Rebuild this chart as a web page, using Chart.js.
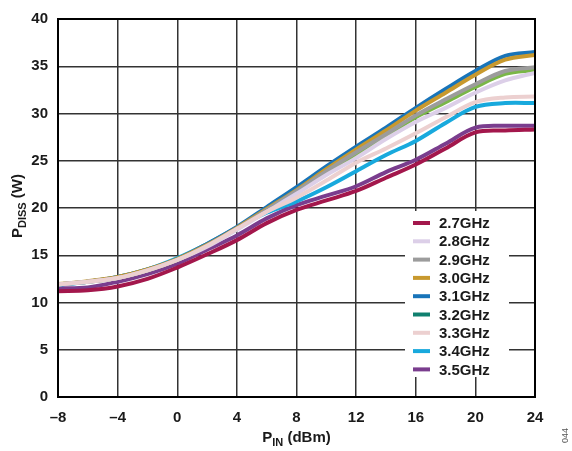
<!DOCTYPE html>
<html>
<head>
<meta charset="utf-8">
<script src="https://cdn.jsdelivr.net/npm/chart.js@4/dist/chart.umd.min.js"></script>
<style>
  html, body { margin: 0; padding: 0; background: #fff; }
  #wrap { width: 572px; height: 451px; position: relative; }
</style>
</head>
<body>
<div id="wrap"><canvas id="chart"></canvas></div>
<script>
'use strict';

// **** Data ****
let pinValues = [-8, -6, -4, -2, 0, 2, 4, 6, 8, 10, 12, 14, 16, 18, 20, 22, 24];
let xTicks = [-8, -4, 0, 4, 8, 12, 16, 20, 24];
let yTicks = [0, 5, 10, 15, 20, 25, 30, 35, 40];

let freqLabels = ['2.7GHz', '2.8GHz', '2.9GHz', '3.0GHz', '3.1GHz', '3.2GHz', '3.3GHz', '3.4GHz', '3.5GHz'];

let diss27 = [11.2, 11.3, 11.7, 12.5, 13.7, 15.1, 16.6, 18.4, 19.8, 20.8, 21.8, 23.2, 24.6, 26.3, 28.0, 28.2, 28.3];
let diss28 = [11.9, 12.2, 12.6, 13.4, 14.5, 15.9, 17.7, 19.6, 21.5, 23.5, 25.3, 27.3, 29.1, 30.6, 32.2, 33.5, 34.3];
let diss29 = [11.9, 12.2, 12.6, 13.4, 14.5, 16.0, 17.8, 19.8, 21.8, 23.9, 25.9, 27.8, 29.8, 31.5, 33.1, 34.5, 34.9];
let diss30 = [11.95, 12.25, 12.7, 13.5, 14.6, 16.1, 17.9, 19.9, 21.9, 24.1, 26.2, 28.2, 30.3, 32.2, 34.1, 35.7, 36.2];
let diss31 = [11.9, 12.2, 12.7, 13.5, 14.6, 16.2, 18.0, 20.1, 22.2, 24.4, 26.5, 28.5, 30.6, 32.6, 34.5, 36.1, 36.5];
let diss32 = [11.9, 12.2, 12.6, 13.4, 14.5, 16.0, 17.8, 19.7, 21.6, 23.7, 25.7, 27.6, 29.6, 31.2, 32.8, 34.2, 34.6];
let diss33 = [11.9, 12.2, 12.6, 13.4, 14.5, 16.0, 17.8, 19.6, 21.1, 22.9, 24.8, 26.3, 27.9, 29.6, 31.2, 31.7, 31.8];
let diss34 = [11.9, 12.2, 12.7, 13.5, 14.7, 16.2, 17.9, 19.5, 20.7, 22.2, 23.9, 25.6, 27.1, 29.0, 30.7, 31.1, 31.1];
let diss35 = [11.5, 11.6, 12.2, 13.0, 14.1, 15.6, 17.1, 18.9, 20.3, 21.3, 22.3, 23.8, 25.1, 26.8, 28.5, 28.7, 28.7];

let allSeries = [diss27, diss28, diss29, diss30, diss31, diss32, diss33, diss34, diss35];

// line colours and the (slightly different) legend swatch colours
let lineColors = ['#a3174c', '#dccfe8', '#9c9c9c', '#c8992e', '#1874b9', '#7ab648', '#ecd0d0', '#18a9dd', '#7a3d8e'];
let legendColors = ['#a3174c', '#dccfe8', '#9c9c9c', '#c8992e', '#1874b9', '#10806f', '#ecd0d0', '#18a9dd', '#7a3d8e'];

// draw order: back to front
let drawOrder = [6, 1, 2, 3, 4, 5, 7, 0, 8];

let chartCanvas = document.getElementById('chart');
let fontFam = '"Liberation Sans", Arial, sans-serif';

// **** Helpers ****

function buildDatasets(){
  let sets = [];
  for (let k = 0; k < drawOrder.length; k++){
    let i = drawOrder[k];
    let pts = [];
    for (let j = 0; j < pinValues.length; j++){
      pts.push({x: pinValues[j], y: allSeries[i][j]});
    }
    sets.push({
      label: freqLabels[i],
      data: pts,
      borderColor: lineColors[i],
      backgroundColor: lineColors[i],
      borderWidth: 4,
      pointRadius: 0,
      tension: 0.35,
      fill: false
    });
  }
  return sets;
}

function subText(ctx, main, sub, rest, x, y){
  ctx.font = 'bold 15px ' + fontFam;
  let w1 = ctx.measureText(main).width;
  let w3 = ctx.measureText(rest).width;
  ctx.font = 'bold 11px ' + fontFam;
  let w2 = ctx.measureText(sub).width;
  let start = x - (w1 + w2 + w3) / 2;
  ctx.textAlign = 'left';
  ctx.textBaseline = 'alphabetic';
  ctx.font = 'bold 15px ' + fontFam;
  ctx.fillText(main, start, y);
  ctx.font = 'bold 11px ' + fontFam;
  ctx.fillText(sub, start + w1, y + 4);
  ctx.font = 'bold 15px ' + fontFam;
  ctx.fillText(rest, start + w1 + w2, y);
}

// white box behind the legend, over the grid
let legendBackPlugin = {
  id: 'legendBack',
  beforeDatasetsDraw(chart){
    let ctx = chart.ctx;
    ctx.save();
    ctx.fillStyle = '#fff';
    ctx.fillRect(405, 211, 104, 166);
    ctx.restore();
  }
};

let decorPlugin = {
  id: 'decor',
  afterDraw(chart){
    let ctx = chart.ctx;
    let area = chart.chartArea;
    ctx.save();

    // frame
    ctx.strokeStyle = '#000';
    ctx.lineWidth = 2;
    ctx.strokeRect(area.left, area.top, area.right - area.left, area.bottom - area.top);

    // legend
    for (let i = 0; i < freqLabels.length; i++){
      let y = 223 + i * 18.3;
      ctx.strokeStyle = legendColors[i];
      ctx.lineWidth = 4;
      ctx.beginPath();
      ctx.moveTo(413, y);
      ctx.lineTo(430, y);
      ctx.stroke();
      ctx.fillStyle = '#1a1a1a';
      ctx.font = 'bold 15px ' + fontFam;
      ctx.textAlign = 'left';
      ctx.textBaseline = 'middle';
      ctx.fillText(freqLabels[i], 439, y + 1);
    }

    // axis titles
    ctx.fillStyle = '#1a1a1a';
    subText(ctx, 'P', 'IN', ' (dBm)', (area.left + area.right) / 2, 442);

    ctx.save();
    ctx.translate(22, (area.top + area.bottom) / 2 - 2);
    ctx.rotate(-Math.PI / 2);
    subText(ctx, 'P', 'DISS', ' (W)', 0, 0);
    ctx.restore();

    // figure number
    ctx.save();
    ctx.translate(570, 443);
    ctx.rotate(-Math.PI / 2);
    ctx.fillStyle = '#555';
    ctx.font = '9px ' + fontFam;
    ctx.textAlign = 'left';
    ctx.textBaseline = 'bottom';
    ctx.fillText('044', 0, 0);
    ctx.restore();

    ctx.restore();
  }
};

function renderChart(){
  let chartObj = {
    type: 'line',
    data: { datasets: buildDatasets() },
    options: {
      responsive: true,
      maintainAspectRatio: false,
      animation: false,
      layout: { padding: { top: 16, right: 37, left: 0, bottom: 0 } },
      plugins: {
        legend: { display: false },
        tooltip: { enabled: false }
      },
      scales: {
        x: {
          type: 'linear',
          min: -8,
          max: 24,
          afterBuildTicks: function(scale){
            scale.ticks = xTicks.map(function(v){ return {value: v}; });
          },
          afterFit: function(scale){ scale.height = 54; },
          grid: { color: '#333', lineWidth: 1.5, drawTicks: false },
          border: { display: false },
          ticks: {
            padding: 12,
            color: '#1a1a1a',
            font: { family: fontFam, size: 15, weight: 'bold' },
            callback: function(v){ return v < 0 ? '\u2013' + Math.abs(v) : String(v); }
          }
        },
        y: {
          min: 0,
          max: 40,
          afterBuildTicks: function(scale){
            scale.ticks = yTicks.map(function(v){ return {value: v}; });
          },
          afterFit: function(scale){ scale.width = 58; },
          grid: { color: '#333', lineWidth: 1.5, drawTicks: false },
          border: { display: false },
          ticks: {
            padding: 10,
            color: '#1a1a1a',
            font: { family: fontFam, size: 15, weight: 'bold' }
          }
        }
      }
    },
    plugins: [legendBackPlugin, decorPlugin]
  };

  new Chart(chartCanvas, chartObj);
}

renderChart();
</script>
</body>
</html>
